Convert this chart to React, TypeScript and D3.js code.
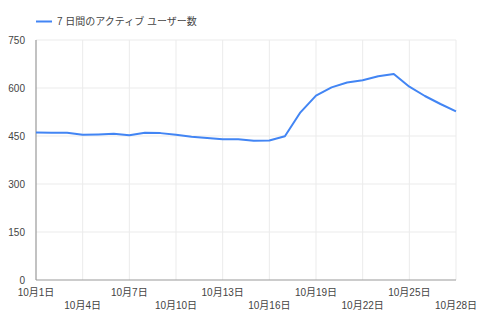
import React from "react";
import * as d3 from "d3";

const days = d3.range(1, 29);
const values = [461, 460, 460, 454, 455, 457, 452, 460, 459, 454, 448, 444, 440, 440, 435, 436, 449, 524, 576, 602, 617, 624, 637, 644, 604, 575, 550, 527];
const yTicks = [0, 150, 300, 450, 600, 750];
const xTickDays = [1, 4, 7, 10, 13, 16, 19, 22, 25, 28];
const seriesName = "7 日間のアクティブ ユーザー数";

const W = 493, H = 330;
const left = 36, right = 456, top = 40, bottom = 280;
const FONT = "Arial, 'Liberation Sans', 'Noto Sans CJK JP', sans-serif";

export default function App() {
  const x = d3.scaleLinear().domain([1, 28]).range([left, right]);
  const y = d3.scaleLinear().domain([0, 750]).range([bottom, top]);
  const line = d3.line<number>().x((_, i) => x(days[i])).y((d) => y(d));
  return (
    <svg width={W} height={H} style={{ position: "absolute", left: 0, top: 0 }} fontFamily={FONT}>
      <rect width={W} height={H} fill="#fff" />
      <g>
        <line x1={36} x2={52} y1={21.5} y2={21.5} stroke="#4285f4" strokeWidth={2} />
        <text x={57} y={25} fontSize={10} fill="#444">{seriesName}</text>
      </g>
      {yTicks.map((t) => (
        <g key={"y" + t}>
          {t > 0 && <line x1={left} x2={right} y1={y(t)} y2={y(t)} stroke="#ebebeb" strokeWidth={1} />}
          <text x={25} y={y(t) + 3.5} fontSize={10} fill="#444" textAnchor="end">{t}</text>
        </g>
      ))}
      {xTickDays.map((d, i) => (
        <g key={"x" + d}>
          {d > 1 && <line x1={x(d)} x2={x(d)} y1={top} y2={bottom} stroke="#ebebeb" strokeWidth={1} />}
          <text x={x(d)} y={i % 2 === 0 ? 296 : 309} fontSize={10} fill="#444" textAnchor="middle">{`10月${d}日`}</text>
        </g>
      ))}
      <line x1={left} x2={left} y1={top} y2={bottom} stroke="#999" strokeWidth={1.2} />
      <line x1={left} x2={right} y1={bottom} y2={bottom} stroke="#999" strokeWidth={1.2} />
      <path d={line(values) || ""} fill="none" stroke="#4285f4" strokeWidth={2} strokeLinejoin="round" />
    </svg>
  );
}
